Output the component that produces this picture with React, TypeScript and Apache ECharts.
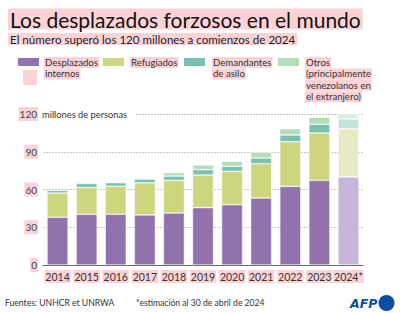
import React, { useEffect, useRef } from "react";
import * as echarts from "echarts";

const years = ["2014", "2015", "2016", "2017", "2018", "2019", "2020", "2021", "2022", "2023", "2024*"];
const seriesNames = ["Desplazados internos", "Refugiados", "Demandantes de asilo", "Otros (principalmente venezolanos en el extranjero)"];
const legendLines = [
  ["Desplazados", "internos"],
  ["Refugiados"],
  ["Demandantes", "de asilo"],
  ["Otros", "(principalmente", "venezolanos en", "el extranjero)"],
];
const desplazados = [38, 40.3, 40.3, 39.8, 41.3, 45.6, 47.9, 53.2, 62.5, 67.3, 70];
const refugiados = [19.2, 21.3, 22.3, 25.5, 26, 25.9, 26.5, 27.3, 35.5, 37.6, 38.2];
const asilo = [2.1, 3.2, 2.8, 3, 3.4, 4.3, 4, 4.5, 5.3, 6.9, 7.9];
const otros = [0, 0, 0, 0, 2.7, 3.7, 4, 4.5, 5, 5.6, 5.6];
const yTicks = [0, 30, 60, 90, 120];
const estimateIndex = 10;

const colors = ["#9072ad", "#cdd57f", "#78c0b1", "#b5dcb8"];
const lightColors = ["#c6b6dc", "#e8eac4", "#c4e2dc", "#dbeedd"];
const PINK = "#fbd3d7";
const FONT = "Lato";

export default function App() {
  const ref = useRef<HTMLDivElement>(null);
  useEffect(() => {
    document.body.style.margin = "0";
    const chart = echarts.init(ref.current!, null, { renderer: "svg" });
    const allData = [desplazados, refugiados, asilo, otros];
    const series = allData.map((arr, si) => ({
      name: seriesNames[si],
      type: "bar",
      stack: "total",
      barWidth: 21,
      data: arr.map((v, i) => ({
        value: v,
        itemStyle: {
          color: i === estimateIndex ? lightColors[si] : colors[si],
          borderColor: "rgba(255,255,255,0.8)",
          borderWidth: v > 0 ? 0.6 : 0,
        },
      })),
    }));

    const legendX = [18, 103, 184, 278];
    const legendTextX = [44, 130, 212, 305];
    const legendGraphics: any[] = [];
    legendLines.forEach((lines, i) => {
      legendGraphics.push({
        type: "rect",
        shape: { x: legendX[i], y: 58, width: 21, height: 8 },
        style: { fill: colors[i] },
      });
      lines.forEach((ln, j) => {
        legendGraphics.push({
          type: "text",
          x: legendTextX[i],
          y: 62.5 + j * 11.4,
          style: {
            text: ln,
            font: `9.6px ${FONT}`,
            fill: "#333",
            verticalAlign: "middle",
            backgroundColor: PINK,
            padding: [1, 1, 0, 1],
          },
        });
      });
    });

    chart.setOption({
      animation: false,
      grid: { left: 43, right: 37, top: 114, bottom: 48, containLabel: false },
      xAxis: {
        type: "category",
        data: years,
        axisLine: { lineStyle: { color: "#666", width: 1 } },
        axisTick: { show: false },
        axisLabel: {
          interval: 0,
          fontFamily: FONT,
          fontSize: 10.5,
          color: "#333",
          margin: 5,
          backgroundColor: PINK,
          padding: [1, 1, 1, 1],
        },
      },
      yAxis: {
        type: "value",
        min: 0,
        max: 120,
        interval: 30,
        axisLine: { show: false },
        axisTick: { show: false },
        axisLabel: {
          fontFamily: FONT,
          fontSize: 10,
          color: "#444",
          margin: 5,
          backgroundColor: PINK,
          padding: [2, 1],
          formatter: (v: number) => (yTicks.includes(v) ? String(v) : ""),
        },
        splitLine: { lineStyle: { color: "#c8c8c8", type: [2, 1], width: 1 } },
      },
      series,
      graphic: [
        {
          type: "text",
          x: 8,
          y: 19,
          style: {
            text: "Los desplazados forzosos en el mundo",
            font: `21px ${FONT}`,
            fill: "#111",
            verticalAlign: "middle",
            backgroundColor: PINK,
            padding: [0, 2],
          },
        },
        {
          type: "text",
          x: 8,
          y: 39,
          style: {
            text: "El número superó los 120 millones a comienzos de 2024",
            font: `11.6px ${FONT}`,
            fill: "#222",
            verticalAlign: "middle",
            backgroundColor: PINK,
            padding: [0, 2],
          },
        },
        ...legendGraphics,
        {
          type: "rect",
          shape: { x: 23, y: 70, width: 14, height: 15 },
          style: { fill: PINK },
        },
        {
          type: "text",
          x: 41,
          y: 114,
          z: 10,
          style: {
            text: "millones de personas",
            font: `9.3px ${FONT}`,
            fill: "#333",
            verticalAlign: "middle",
            backgroundColor: "#fff",
            padding: [2, 8, 2, 1],
          },
        },
        {
          type: "text",
          x: 5,
          y: 303,
          style: { text: "Fuentes: UNHCR et UNRWA", font: `8.6px ${FONT}`, fill: "#333", verticalAlign: "middle" },
        },
        {
          type: "text",
          x: 136,
          y: 303,
          style: { text: "*estimación al 30 de abril de 2024", font: `8.6px ${FONT}`, fill: "#333", verticalAlign: "middle" },
        },
        {
          type: "text",
          x: 350,
          y: 303,
          style: { text: "AFP", font: "italic bold 12.5px 'DejaVu Sans'", fill: "#0b4ea2", verticalAlign: "middle" },
        },
        {
          type: "circle",
          shape: { cx: 386.5, cy: 303, r: 8 },
          style: { fill: "#0b4ea2" },
        },
      ],
    });
    return () => chart.dispose();
  }, []);
  return <div ref={ref} style={{ width: 400, height: 313 }} />;
}
